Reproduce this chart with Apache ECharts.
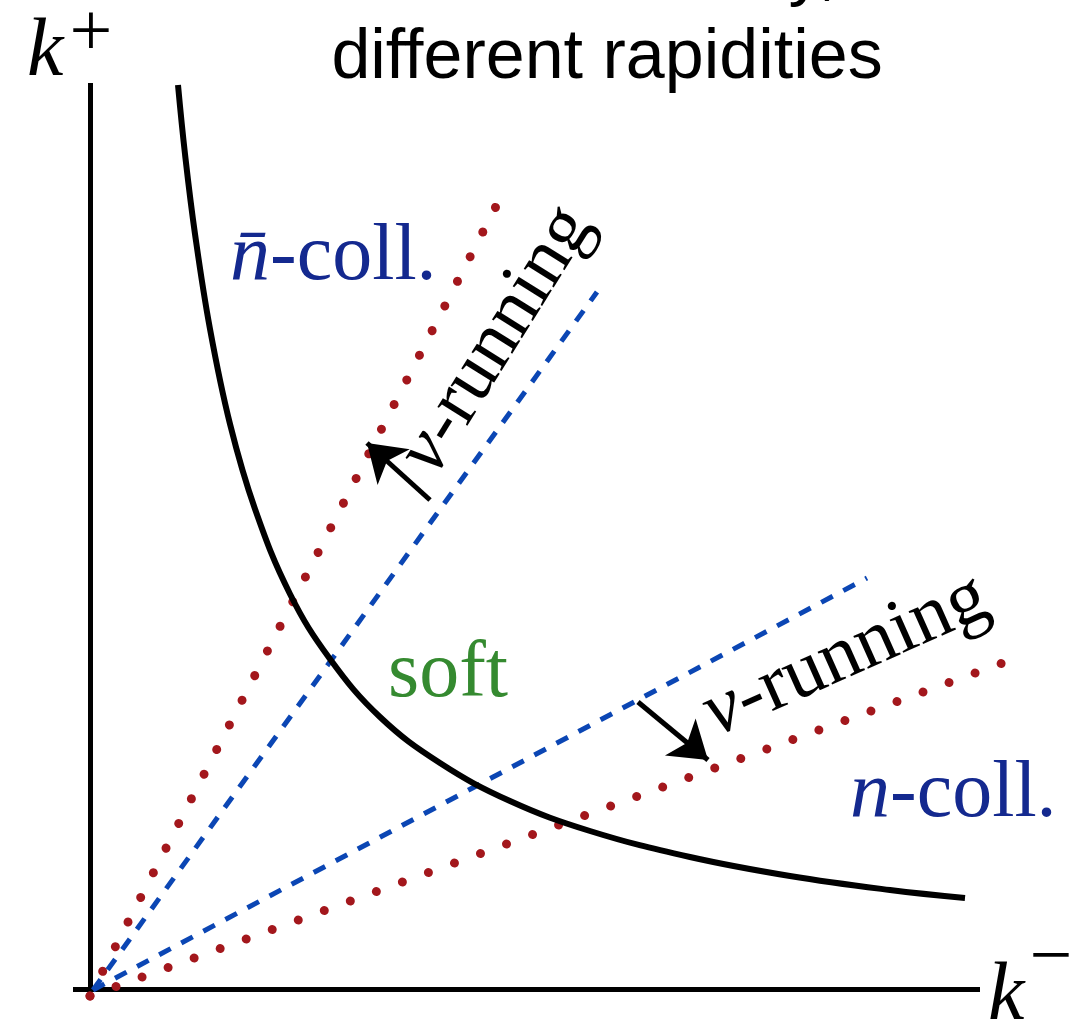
<!DOCTYPE html>
<html>
<head>
<meta charset="utf-8">
<script src="https://cdn.jsdelivr.net/npm/echarts@6/dist/echarts.min.js"></script>
<style>
  html, body { margin: 0; padding: 0; background: #ffffff; }
  #chart { width: 1090px; height: 1023px; }
</style>
</head>
<body>
<div id="chart"></div>
<script>
// Hyperbola k+ k- = const separating the soft region (values in plot units)
const curveKMinus = [0.88, 0.95, 1.05, 1.2, 1.4, 1.65, 2.0, 2.4, 2.9, 3.5, 4.2, 5.0, 6.0, 7.0, 8.0, 8.75];
const curveKPlus  = [9.04, 8.35, 7.55, 6.6, 5.65, 4.8, 3.95, 3.3, 2.72, 2.26, 1.88, 1.58, 1.32, 1.13, 0.99, 0.91];

// Rays from the origin: fixed-rapidity lines (dashed) and shifted ones (dotted)
const dashedRays = [
  [[0.03, -0.01], [5.07, 6.97]],
  [[0.03, -0.01], [7.77, 4.11]]
];
const dottedRays = [
  [[0.0, -0.07], [4.17, 8.04]],
  [[0.0, -0.07], [9.29, 3.32]]
];
// nu-running arrows: tail -> head
const runArrows = [
  [[3.40, 4.89], [2.77, 5.46]],
  [[5.48, 2.87], [6.18, 2.29]]
];
// Axis lines
const axisLines = [
  [[0.0, -0.01], [0.0, 9.06]],
  [[-0.17, 0.0], [8.9, 0.0]]
];

// Annotation anchors and texts
const noteTexts   = ['{it|n\u0304}-coll.', 'soft', '{it|n}-coll.', '{it|\u03BD}-running', '{it|\u03BD}-running'];
const noteAnchors = [[1.40, 7.31], [2.98, 3.14], [7.60, 1.94], [4.07, 6.49], [7.56, 3.33]];
const axisNameTexts   = ['k', '+', 'k', '\u2212'];
const axisNameAnchors = [[-0.63, 9.36], [0.01, 9.54], [8.98, -0.08], [9.61, 0.29]];
const titleLines = ['same virtuality,', 'different rapidities'];

const BLUE_TEXT = '#14298f';
const BLUE_DASH = '#0b46b4';
const RED_DOT = '#a3171c';
const GREEN = '#358a30';
const SERIF = '"Liberation Serif", "DejaVu Serif", serif';

const noteStyles = [
  { color: BLUE_TEXT, align: 'left', rotate: 0, size: 80 },
  { color: GREEN, align: 'left', rotate: 0, size: 80 },
  { color: BLUE_TEXT, align: 'left', rotate: 0, size: 80 },
  { color: '#000000', align: 'center', rotate: 58, size: 77 },
  { color: '#000000', align: 'center', rotate: 24, size: 78 }
];

const noteData = noteAnchors.map((p, i) => ({
  value: p,
  label: {
    show: true,
    position: 'inside',
    formatter: noteTexts[i],
    color: noteStyles[i].color,
    opacity: 1,
    align: noteStyles[i].align,
    verticalAlign: 'middle',
    rotate: noteStyles[i].rotate,
    fontFamily: SERIF,
    fontSize: noteStyles[i].size,
    rich: {
      it: { fontStyle: 'italic', fontFamily: SERIF, fontSize: noteStyles[i].size, color: noteStyles[i].color }
    }
  }
}));

const axisNameData = axisNameAnchors.map((p, i) => ({
  value: p,
  label: {
    show: true,
    position: 'inside',
    formatter: axisNameTexts[i],
    color: '#000000',
    opacity: 1,
    align: (i % 2 === 0) ? 'left' : 'center',
    verticalAlign: 'middle',
    fontFamily: SERIF,
    fontStyle: (i % 2 === 0) ? 'italic' : 'normal',
    fontSize: (i % 2 === 0) ? 82 : 76
  }
}));

const chart = echarts.init(document.getElementById('chart'), null, { renderer: 'canvas' });

chart.setOption({
  animation: false,
  backgroundColor: '#ffffff',
  grid: { left: 0, right: 0, top: 0, bottom: 0 },
  xAxis: { type: 'value', min: -0.9, max: 10.0, show: false },
  yAxis: { type: 'value', min: -0.34, max: 9.89, show: false },
  graphic: titleLines.map((t, i) => ({
    type: 'text',
    x: 607,
    y: -27 + i * 86,
    style: {
      text: t,
      fill: '#000000',
      font: '70px "Liberation Sans", Arial, sans-serif',
      align: 'center',
      verticalAlign: 'middle'
    }
  })),
  series: [
    {
      type: 'lines',
      coordinateSystem: 'cartesian2d',
      data: axisLines.map(c => ({ coords: c })),
      lineStyle: { color: '#000000', width: 5, opacity: 1 },
      symbol: ['none', 'none']
    },
    {
      type: 'lines',
      coordinateSystem: 'cartesian2d',
      data: dottedRays.map(c => ({ coords: c })),
      lineStyle: { color: RED_DOT, width: 9, type: [0.01, 27.7], cap: 'round', opacity: 1 },
      symbol: ['none', 'none']
    },
    {
      type: 'lines',
      coordinateSystem: 'cartesian2d',
      data: dashedRays.map(c => ({ coords: c })),
      lineStyle: { color: BLUE_DASH, width: 5, type: [13, 12], opacity: 1 },
      symbol: ['none', 'none']
    },
    {
      type: 'line',
      data: curveKMinus.map((x, i) => [x, curveKPlus[i]]),
      smooth: 0.4,
      showSymbol: false,
      symbol: 'none',
      lineStyle: { color: '#000000', width: 6 },
      clip: false
    },
    {
      type: 'lines',
      coordinateSystem: 'cartesian2d',
      data: runArrows.map(c => ({ coords: c })),
      lineStyle: { color: '#000000', width: 5, opacity: 1 },
      symbol: ['none', 'arrow'],
      symbolSize: [34, 36]
    },
    {
      type: 'scatter',
      symbolSize: 0,
      clip: false,
      itemStyle: { opacity: 1 },
      data: noteData,
      z: 5
    },
    {
      type: 'scatter',
      symbolSize: 0,
      clip: false,
      itemStyle: { opacity: 1 },
      data: axisNameData,
      z: 5
    }
  ]
});
</script>
</body>
</html>
